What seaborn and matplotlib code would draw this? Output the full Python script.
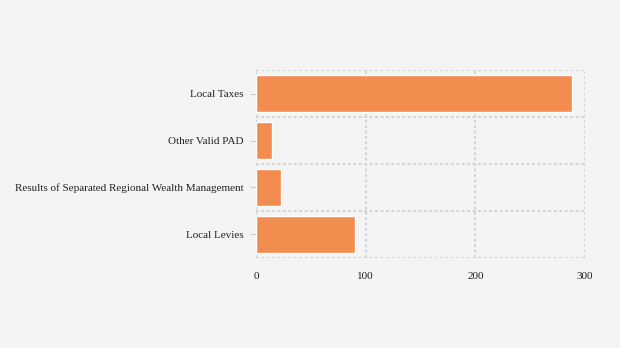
import matplotlib
matplotlib.use("Agg")
import matplotlib.pyplot as plt
import seaborn as sns
import pandas as pd
import numpy as np

categories = ["Local Taxes", "Other Valid PAD",
              "Results of Separated Regional Wealth Management", "Local Levies"]
values = [288, 14.5, 22.8, 90.3]
x_ticks = [0, 100, 200, 300]

sns.set_theme(style="white")
plt.rcParams["font.family"] = ["Liberation Serif", "DejaVu Serif"]

bg = "#f4f4f4"
grid_color = "#d4d4d4"
bar_color = "#f28c4f"

df = pd.DataFrame({"category": categories, "value": values})

fig = plt.figure(figsize=(6.2, 3.48), dpi=100, facecolor=bg)
ax = fig.add_axes([0.413, 0.2595, 0.5305, 0.5385])
ax.set_facecolor(bg)

sns.barplot(data=df, x="value", y="category", orient="h", color=bar_color,
            width=0.78, saturation=1, ax=ax, zorder=3)

ax.set_xlim(0, 300)
ax.set_ylim(len(categories) - 0.5, -0.5)

# dotted grid: value lines vertical, category band borders horizontal
for xv in x_ticks:
    ax.axvline(xv, color=grid_color, lw=1.5, ls=(0, (1.3, 1.3)), zorder=1)
for yb in np.arange(-0.5, len(categories), 1.0):
    ax.axhline(yb, color=grid_color, lw=1.5, ls=(0, (1.3, 1.3)), zorder=1)

for s in ax.spines.values():
    s.set_visible(False)

ax.set_xticks(x_ticks)
ax.set_xticklabels([str(t) for t in x_ticks])
ax.tick_params(axis="x", length=0, pad=10, labelsize=8, colors="#222222")
ax.tick_params(axis="y", length=4, width=0.8, color="#cccccc", pad=5,
               labelsize=8, labelcolor="#222222", left=True)
ax.set_xlabel("")
ax.set_ylabel("")

fig.savefig("out.png", dpi=100, facecolor=bg)
